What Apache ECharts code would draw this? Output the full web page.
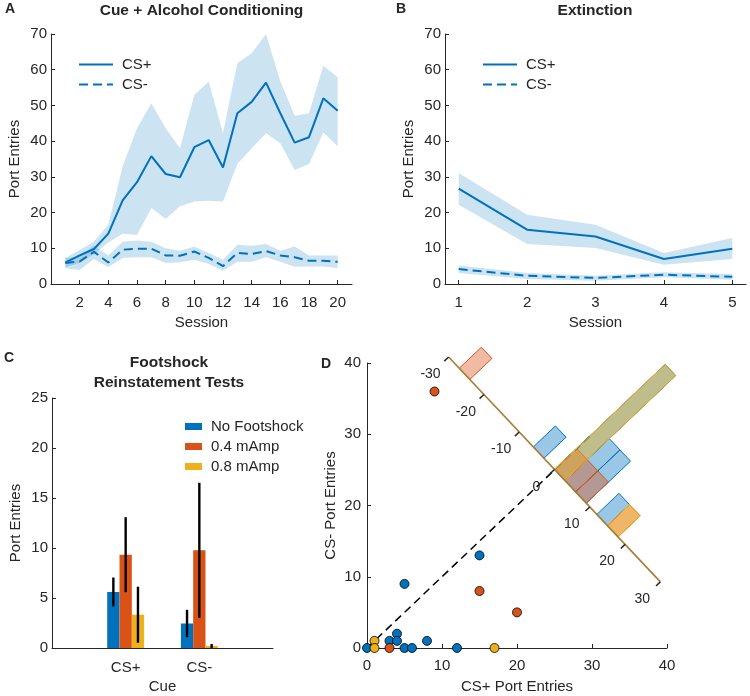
<!DOCTYPE html>
<html>
<head>
<meta charset="utf-8">
<script src="https://cdn.jsdelivr.net/npm/echarts@6/dist/echarts.min.js"></script>
<style>
html,body{margin:0;padding:0;background:#fff;}
#main{width:750px;height:696px;}
</style>
</head>
<body>
<div id="main"></div>
<script>
// ---- data ----
// A: cue + alcohol conditioning
var sessionsA = [1,2,3,4,5,6,7,8,9,10,11,12,13,14,15,16,17,18,19,20];
var sessionTicksA = [2,4,6,8,10,12,14,16,18,20];
var plusMeanA = [6,8,9.8,14.1,23.4,28.5,35.8,30.8,29.9,38.3,40.3,32.6,47.8,51,56.4,47.8,39.6,41.1,52,48.5];
var plusUpA   = [7.3,9.5,11.9,16.6,33,43.6,50.6,43.6,38,52.9,56.7,42.2,61.8,64.6,70,56.7,47.1,47.8,61.1,57.9];
var plusLowA  = [4.7,5.9,8.4,11.6,14.1,13.7,21.3,18.2,21.8,23.1,23.3,23.1,33.6,38,42.2,39.4,31.9,33.6,42.4,38.6];
var minusMeanA = [5.9,6.3,9,6,9.6,9.9,9.9,8,7.9,9.1,7.3,5,8.7,8.4,9.2,8,7.5,6.5,6.5,6.2];
var minusUpA   = [7.2,7.8,10.8,8,11.8,12.2,11.8,10,9.3,10.5,8.7,6.8,11,10.7,11.2,9.3,10.5,8,8,8];
var minusLowA  = [4.4,3.9,7,4.7,7.3,7.5,7.5,5.9,6.1,6.8,5.6,3.7,6.2,6.2,7.5,6.2,4.8,4.9,4.9,4.5];
// B: extinction
var sessionsB = [1,2,3,4,5];
var plusMeanB = [26.7,15.2,13.3,7,9.9];
var plusUpB   = [31.1,19.4,16.6,8.7,12.9];
var plusLowB  = [22.2,11.2,10.1,5.4,7];
var minusMeanB = [4.2,2.3,1.7,2.6,2];
var minusUpB   = [5.2,3.1,2.3,3.3,2.8];
var minusLowB  = [3.1,1.4,0.9,1.9,1.2];
// C: footshock reinstatement
var cuePos = [1,2];
var cueNames = ['CS+','CS-'];
var noShock = [5.6,2.45],  noShockErr = [1.45,1.37];
var mA04 = [9.33,9.77],    mA04Err = [3.75,6.75];
var mA08 = [3.33,0.2],     mA08Err = [2.8,0.2];
// D: individual rats (CS+ entries, CS- entries)
var noShockPts = [[0,0],[3,1],[4,2],[4,1],[5,0],[6,0],[8,1],[12,0],[5,9],[15,13]];
var mA04Pts = [[3,0],[9,36],[15,8],[20,5]];
var mA08Pts = [[1,1],[1,0],[17,0]];
// D: histogram of CS+ minus CS- (bin starts, width 3)
var binStarts = [-30,-27,-24,-21,-18,-15,-12,-9,-6,-3,0,3,6,9,12,15,18,21,24,27];
var histNoShock = [0,0,0,0,0,0,0,0,1,0,5,2,2,0,1,0,0,0,0,0];
var histMA04    = [0,1,0,0,0,0,0,0,0,0,1,1,1,0,0,1,0,0,0,0];
var histMA08    = [0,0,0,0,0,0,0,0,0,0,5,0,0,0,0,1,0,0,0,0];
var diffTicks = [-30,-20,-10,0,10,20,30];

// ---- style ----
var FONT = '"Liberation Sans", Arial, Helvetica, sans-serif';
var INK = '#262626';
var BLUE = '#0072BD', RED = '#D95319', YELLOW = '#EDB120';

function zip(a, b){ return a.map(function(v, i){ return [v, b[i]]; }); }
function pick(starts, counts){
  var out = [];
  for (var i = 0; i < starts.length; i++) if (counts[i] > 0) out.push([starts[i], counts[i]]);
  return out;
}
function rgba(hex, a){
  var n = parseInt(hex.slice(1), 16);
  return 'rgba(' + (n >> 16) + ',' + ((n >> 8) & 255) + ',' + (n & 255) + ',' + a + ')';
}

function axis(gi, min, max, ticks, name, gap, margin, fmt){
  var a = {
    type: 'value', gridIndex: gi, min: min, max: max,
    splitLine: {show: false},
    axisLine: {show: true, onZero: false, lineStyle: {color: INK, width: 1}},
    axisTick: {show: true, inside: true, length: 4, lineStyle: {color: INK}, customValues: ticks},
    axisLabel: {color: INK, fontSize: 15, fontFamily: FONT, margin: margin, customValues: ticks},
    name: name, nameLocation: 'middle', nameGap: gap,
    nameTextStyle: {color: INK, fontSize: 15, fontFamily: FONT}
  };
  if (fmt) a.axisLabel.formatter = fmt;
  return a;
}

// shaded error band: one polygon through all rows
function band(xs, lo, up, xi){
  return {type: 'custom', xAxisIndex: xi, yAxisIndex: xi, z: 1, silent: true,
    data: xs.map(function(x, i){ return [x, lo[i], up[i]]; }),
    renderItem: function(params, api){
      if (params.dataIndexInside !== 0) return null;
      var n = params.dataInsideLength, top = [], bot = [];
      for (var i = 0; i < n; i++) {
        top.push(api.coord([api.value(0, i), api.value(2, i)]));
        bot.push(api.coord([api.value(0, i), api.value(1, i)]));
      }
      return {type: 'polygon', shape: {points: top.concat(bot.reverse())},
        style: {fill: rgba(BLUE, 0.2)}};
    }};
}
function meanLine(name, xs, ys, xi, dashed){
  return {type: 'line', name: name, xAxisIndex: xi, yAxisIndex: xi, data: zip(xs, ys),
    symbol: 'none', color: BLUE, z: 3,
    lineStyle: {color: BLUE, width: 2, type: dashed ? [9,5] : 'solid'}};
}

// bars in C
var BW = 0.167;
function barSeries(name, vals, color, off){
  return {type: 'custom', name: name, xAxisIndex: 2, yAxisIndex: 2, color: color, itemStyle: {color: color},
    data: zip(cuePos, vals),
    renderItem: function(params, api){
      var x = api.value(0) + off, v = api.value(1);
      var p0 = api.coord([x - BW/2, v]), p1 = api.coord([x + BW/2, 0]);
      return {type: 'rect', shape: {x: p0[0], y: p0[1], width: p1[0]-p0[0], height: p1[1]-p0[1]},
        style: {fill: color}};
    }};
}
function errSeries(vals, errs, off){
  return {type: 'custom', xAxisIndex: 2, yAxisIndex: 2, z: 5,
    data: cuePos.map(function(x, i){ return [x, vals[i], errs[i]]; }),
    renderItem: function(params, api){
      var x = api.value(0) + off, v = api.value(1), e = api.value(2);
      var a = api.coord([x, Math.max(0, v - e)]), b = api.coord([x, v + e]);
      return {type: 'line', shape: {x1: a[0], y1: a[1], x2: b[0], y2: b[1]},
        style: {stroke: '#000', lineWidth: 2.4}};
    }};
}

// rotated difference axis in D
var RC = [25, 25.06], RU = [0.4705, -0.526], RK = [2.95, 2.95], BIN = 3;
function P(d){ return [RC[0] + d*RU[0], RC[1] + d*RU[1]]; }
function histSeries(counts, color, alpha){
  return {type: 'custom', xAxisIndex: 3, yAxisIndex: 3, clip: false, z: 4, silent: true,
    data: pick(binStarts, counts),
    renderItem: function(params, api){
      var a = api.value(0), c = api.value(1);
      var b0 = P(a), b1 = P(a + BIN);
      var t0 = [b0[0] + c*RK[0], b0[1] + c*RK[1]], t1 = [b1[0] + c*RK[0], b1[1] + c*RK[1]];
      return {type: 'polygon',
        shape: {points: [api.coord(b0), api.coord(b1), api.coord(t1), api.coord(t0)]},
        style: {fill: rgba(color, alpha), stroke: color, lineWidth: 1}};
    }};
}

var chart = echarts.init(document.getElementById('main'));

var series = [];
series.push(band(sessionsA, plusLowA, plusUpA, 0));
series.push(band(sessionsA, minusLowA, minusUpA, 0));
series.push(meanLine('CS+', sessionsA, plusMeanA, 0, false));
series.push(meanLine('CS-', sessionsA, minusMeanA, 0, true));
series.push(band(sessionsB, plusLowB, plusUpB, 1));
series.push(band(sessionsB, minusLowB, minusUpB, 1));
series.push(meanLine('CS+', sessionsB, plusMeanB, 1, false));
series.push(meanLine('CS-', sessionsB, minusMeanB, 1, true));

series.push(barSeries('No Footshock', noShock, BLUE, -BW));
series.push(barSeries('0.4 mAmp', mA04, RED, 0));
series.push(barSeries('0.8 mAmp', mA08, YELLOW, BW));
series.push(errSeries(noShock, noShockErr, -BW));
series.push(errSeries(mA04, mA04Err, 0));
series.push(errSeries(mA08, mA08Err, BW));

// D: diagonal, histogram, rotated axis, points
series.push({type: 'line', xAxisIndex: 3, yAxisIndex: 3, data: [[0,0],[30,30]], symbol: 'none', z: 3,
  lineStyle: {color: '#000', width: 1.5, type: [8,5]}, silent: true});
series.push(histSeries(histNoShock, BLUE, 0.4));
series.push(histSeries(histMA04, RED, 0.4));
series.push(histSeries(histMA08, YELLOW, 0.45));
series.push({type: 'custom', xAxisIndex: 3, yAxisIndex: 3, clip: false, z: 6, silent: true,
  data: [[diffTicks[0], diffTicks[diffTicks.length - 1]]],
  renderItem: function(params, api){
    var a = api.coord(P(api.value(0))), b = api.coord(P(api.value(1)));
    return {type: 'line', shape: {x1: a[0], y1: a[1], x2: b[0], y2: b[1]},
      style: {stroke: '#a67c34', lineWidth: 1.6}};
  }});
series.push({type: 'custom', xAxisIndex: 3, yAxisIndex: 3, clip: false, z: 6, silent: true,
  data: diffTicks.map(function(t){ return [t, 0]; }),
  renderItem: function(params, api){
    var d = api.value(0);
    var p = api.coord(P(d));
    var q = api.coord([P(d)[0] + RK[0], P(d)[1] + RK[1]]);
    var nx = q[0] - p[0], ny = q[1] - p[1], L = Math.sqrt(nx*nx + ny*ny);
    nx /= L; ny /= L;
    return {type: 'group', children: [
      {type: 'line', shape: {x1: p[0], y1: p[1], x2: p[0] - nx*6, y2: p[1] - ny*6},
        style: {stroke: INK, lineWidth: 1.5}},
      {type: 'text', x: p[0] - nx*25, y: p[1] - ny*25,
        style: {text: String(d), fill: INK, font: '14px ' + FONT, align: 'center', verticalAlign: 'middle'}}
    ]};
  }});
function scat(pts, color){
  return {type: 'scatter', xAxisIndex: 3, yAxisIndex: 3, data: pts, symbolSize: 9, z: 7,
    itemStyle: {color: color, borderColor: '#000', borderWidth: 0.8, opacity: 1}};
}
series.push(scat(noShockPts, BLUE));
series.push(scat(mA04Pts, RED));
series.push(scat(mA08Pts, YELLOW));

function txt(x, y, s, size, bold){
  return {type: 'text', x: x, y: y, silent: true,
    style: {text: s, fill: INK, font: (bold ? 'bold ' : '') + size + 'px ' + FONT, align: 'center', verticalAlign: 'middle'}};
}

var legendText = {color: INK, fontSize: 15, fontFamily: FONT, padding: [0,0,0,4]};
var lineLegend = {orient: 'vertical', top: 52, itemWidth: 34, itemHeight: 14, itemGap: 5,
  textStyle: legendText, selectedMode: false,
  itemStyle: {color: 'rgba(0,0,0,0)', borderWidth: 0, opacity: 0}};

chart.setOption({
  animation: false,
  backgroundColor: '#fff',
  grid: [
    {left: 51, top: 34, width: 301, height: 250},
    {left: 445, top: 34, width: 301, height: 250},
    {left: 52, top: 398, width: 221, height: 250},
    {left: 367, top: 363, width: 300, height: 285}
  ],
  xAxis: [
    axis(0, 0, 21, sessionTicksA, 'Session', 31, 11),
    axis(1, 0.8, 5.2, sessionsB, 'Session', 31, 11),
    axis(2, 0, 3, cuePos, 'Cue', 31, 12, function(v){ return cueNames[cuePos.indexOf(v)] || ''; }),
    axis(3, 0, 40, [0,10,20,30,40], 'CS+ Port Entries', 31, 10)
  ],
  yAxis: [
    axis(0, 0, 70, [0,10,20,30,40,50,60,70], 'Port Entries', 29, 4),
    axis(1, 0, 70, [0,10,20,30,40,50,60,70], 'Port Entries', 29, 4),
    axis(2, 0, 25, [0,5,10,15,20,25], 'Port Entries', 29, 4),
    axis(3, 0, 40, [0,10,20,30,40], 'CS- Port Entries', 29, 6)
  ],
  legend: [
    Object.assign({data: ['CS+','CS-'], left: 73}, lineLegend),
    Object.assign({data: ['CS+','CS-'], left: 477}, lineLegend),
    {data: ['No Footshock','0.4 mAmp','0.8 mAmp'], orient: 'vertical', left: 180, top: 414,
     icon: 'rect', itemWidth: 17, itemHeight: 7, itemGap: 5, textStyle: legendText, selectedMode: false}
  ],
  graphic: [
    txt(10, 9, 'A', 14, true),
    txt(401, 9, 'B', 14, true),
    txt(9, 358, 'C', 14, true),
    txt(326, 364, 'D', 14, true),
    txt(201.5, 11, 'Cue + Alcohol Conditioning', 15.5, true),
    txt(595, 11, 'Extinction', 15.5, true),
    txt(169, 363, 'Footshock', 15.5, true),
    txt(169, 383, 'Reinstatement Tests', 15.5, true)
  ],
  series: series
});
</script>
</body>
</html>
